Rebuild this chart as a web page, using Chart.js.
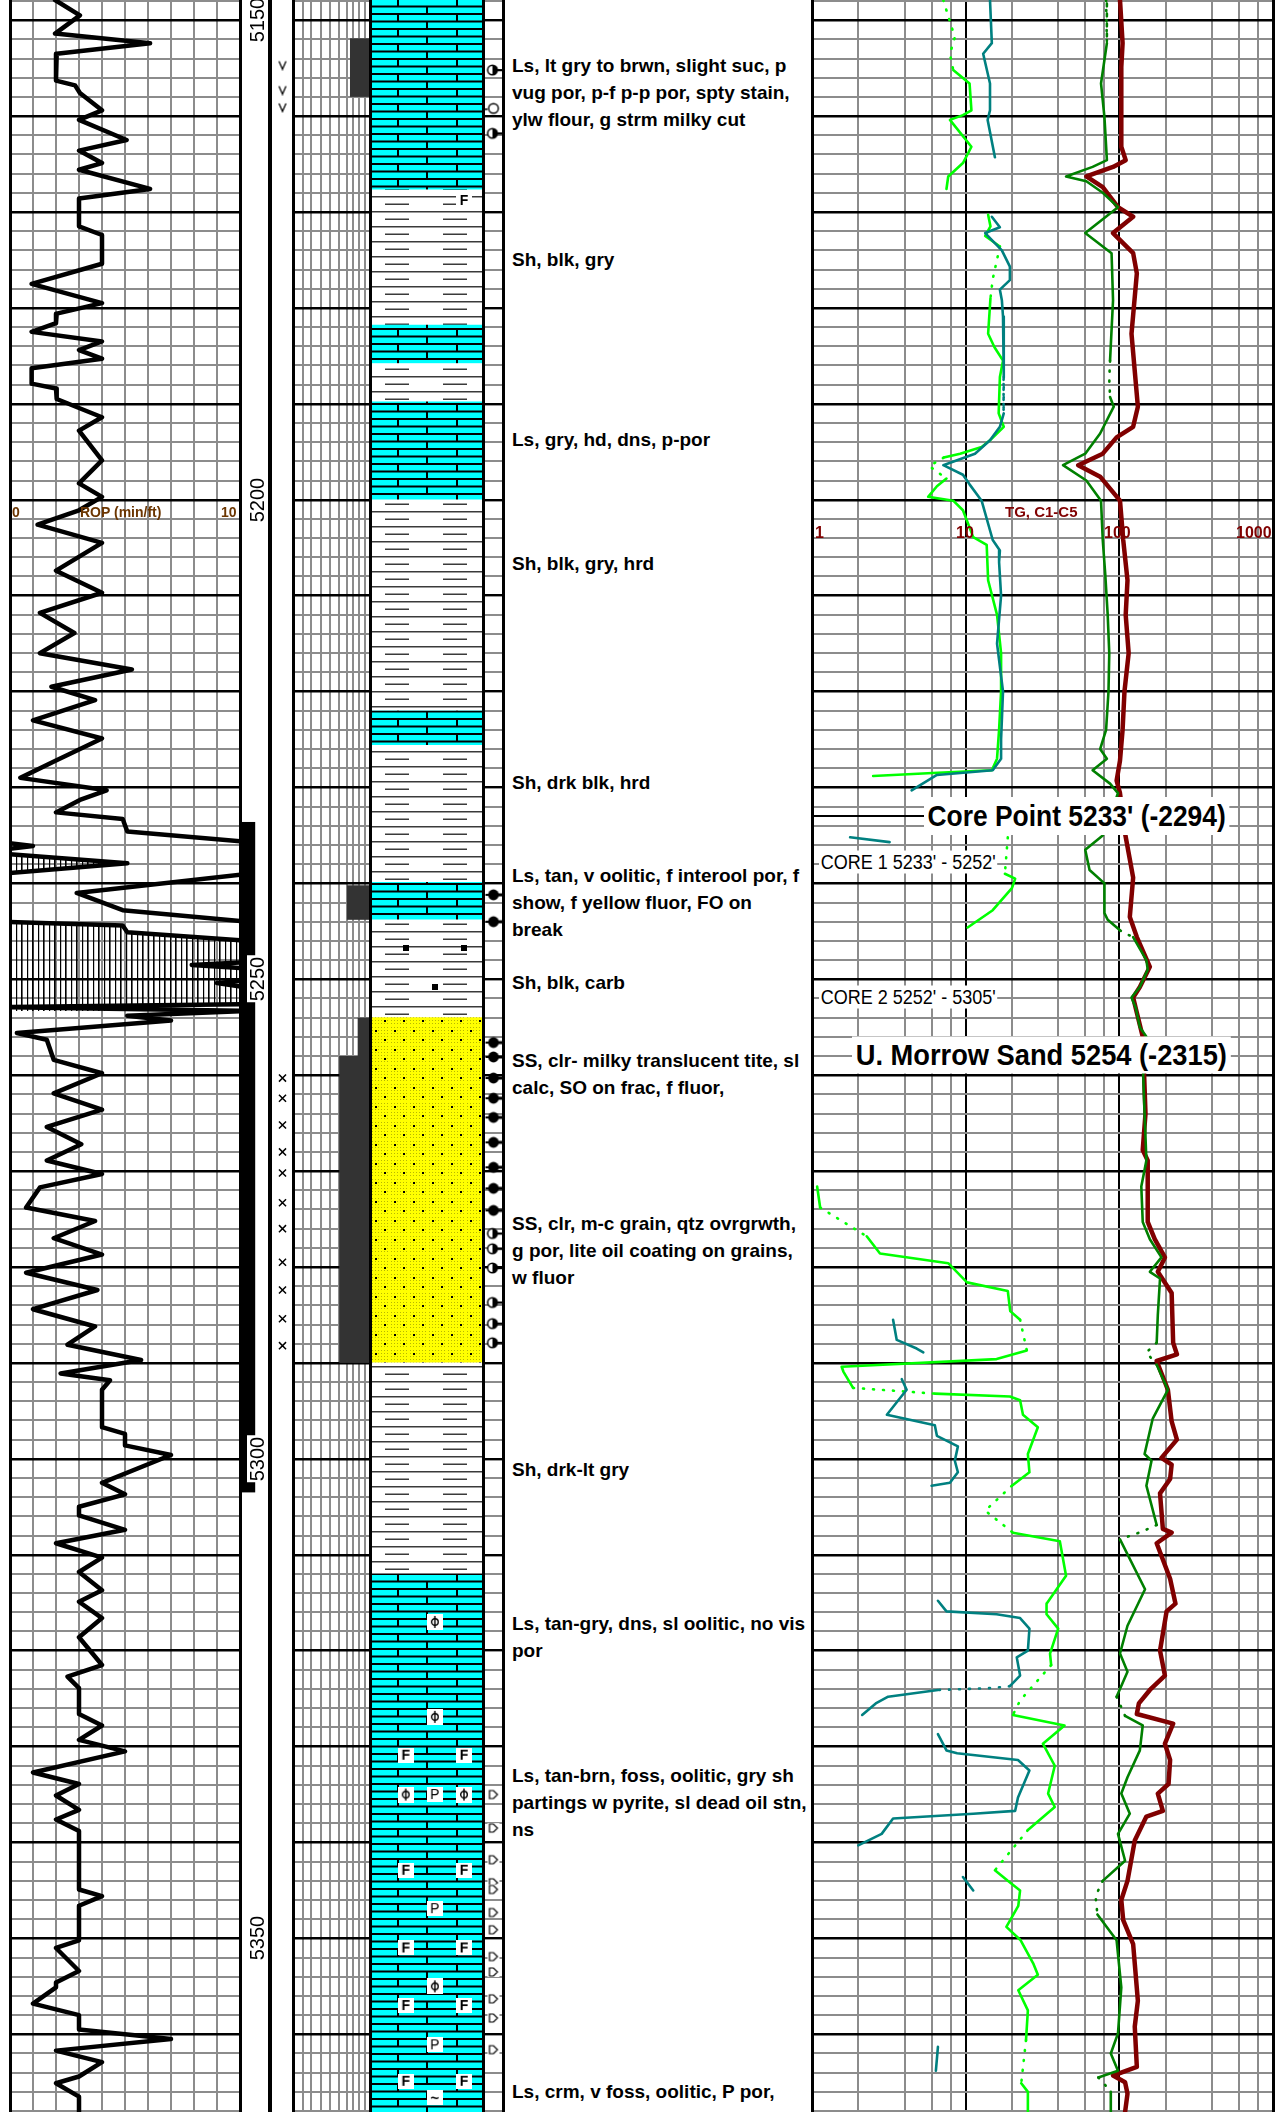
<!DOCTYPE html>
<html>
<head>
<meta charset="utf-8">
<script src="https://cdn.jsdelivr.net/npm/chart.js@4.4.1/dist/chart.umd.min.js"></script>
<style>
  html, body { margin: 0; padding: 0; background: #fff; }
  body { position: relative; width: 1278px; height: 2112px; overflow: hidden; font-family: "Liberation Sans", Arial, sans-serif; }
  .track { position: absolute; top: 0; }
  .rule { position: absolute; top: 0; height: 2112px; background: #000; }
  .desc { position: absolute; left: 512px; font-weight: bold; font-size: 19px; line-height: 27px; white-space: nowrap; color: #000; }
  .depth-label { position: absolute; font-size: 20px; line-height: 20px; background: #fff; padding: 0 1px; transform: translate(-50%, -50%) rotate(-90deg); }
  .axis-label { position: absolute; font-weight: bold; white-space: nowrap; transform: translateY(-50%); }
  .note { position: absolute; white-space: nowrap; background: #fff; transform-origin: left center; }
</style>
</head>
<body>
<div class="track" style="left:10px"><canvas id="ropChart" width="230" height="2112"></canvas></div>
<div class="track" style="left:240px"><canvas id="coreChart" width="16" height="2112"></canvas></div>
<div class="track" style="left:272px"><canvas id="markChart" width="21" height="2112"></canvas></div>
<div class="track" style="left:293px"><canvas id="poroChart" width="77" height="2112"></canvas></div>
<div class="track" style="left:371px"><canvas id="lithChart" width="112" height="2112"></canvas></div>
<div class="track" style="left:484px"><canvas id="showChart" width="19" height="2112"></canvas></div>
<div class="track" style="left:812px"><canvas id="gasChart" width="461" height="2112"></canvas></div>

<script>
// ---- depth frame ----
const depthMin = 5147.9;
const depthMax = 5368.1;
const gridStep = 2;
const depthLabels = [5150, 5200, 5250, 5300, 5350];
const ropTicks = [0, 1, 2, 3, 4, 5, 6, 7, 8, 9, 10];
const poroTicks = [0, 1.3, 2.3, 3.6, 4.8, 6.0, 7.0, 7.8, 8.6, 9.3, 10];
const gasTicks = [1, 2, 4, 6, 8, 10, 20, 40, 60, 80, 100, 200, 400, 600, 800, 1000];
const gasAxisLabels = ["1", "10", "100", "1000"];

// ---- ROP (min/ft) ----
const ropDepth = [5147.9, 5149.5, 5151.4, 5152.4, 5153.5, 5156.3, 5156.8, 5157.6, 5159.4, 5160.4,
  5162.5, 5163.6, 5164.9, 5165.6, 5167.6, 5168.6, 5171.5, 5172.4, 5175.4, 5177.5,
  5179.5, 5180.6, 5181.6, 5182.5, 5183.5, 5184.4, 5185.3, 5186.3, 5187.9, 5188.4,
  5189.5, 5191.4, 5192.8, 5195.9, 5198.3, 5199.7, 5201.1, 5202.6, 5204.5, 5207.4,
  5209.7, 5211.8, 5213.9, 5216.0, 5217.7, 5219.5, 5220.9, 5223.0, 5224.9, 5227.2,
  5229.0, 5230.3, 5231.3, 5232.6, 5233.3, 5234.6, 5235.7, 5236.0, 5239.0, 5241.0,
  5242.8, 5244.0, 5244.5, 5253.3, 5253.8, 5254.3, 5255.6, 5256.3, 5258.4, 5259.8,
  5261.9, 5263.6, 5265.4, 5267.2, 5268.9, 5270.3, 5271.7, 5273.8, 5275.2, 5277.0,
  5278.7, 5280.6, 5282.4, 5284.4, 5286.2, 5288.1, 5289.7, 5291.1, 5291.8,
  5292.8, 5296.7, 5297.4, 5298.6, 5299.6, 5302.5, 5303.7, 5305.0, 5305.9, 5307.4,
  5308.8, 5310.3, 5311.8, 5313.7, 5314.9, 5316.6, 5318.6, 5321.5, 5322.7, 5323.9,
  5326.6, 5327.8, 5329.3, 5330.5, 5332.7, 5333.9, 5335.1, 5336.6, 5337.6, 5338.8,
  5344.9, 5345.6, 5346.6, 5350.2, 5351.0, 5353.4, 5354.6, 5355.1, 5356.8, 5358.0,
  5359.5, 5360.5, 5361.7, 5362.9, 5364.4, 5365.1, 5366.5, 5368.1];
const ropValue = [1.96, 3.04, 1.96, 6.09, 2.03, 2.0, 2.83, 3.04, 4.0, 3.0,
  5.07, 3.0, 4.0, 3.0, 6.09, 3.0, 3.0, 4.0, 4.0, 0.94,
  4.0, 2.03, 2.0, 0.94, 4.0, 3.0, 4.0, 0.94, 0.94, 2.0,
  2.03, 4.0, 3.0, 4.0, 3.0, 4.0, 3.0, 1.2, 4.0, 2.0,
  4.0, 1.3, 2.8, 1.3, 5.3, 1.8, 3.7, 1.0, 4.0, 2.0,
  0.45, 4.2, 3.04, 2.0, 4.9, 5.1, 10.4, null, 10.4, 2.9,
  4.9, 10.4, null, 10.4, 5.1, 7.0, 0.3, 1.6, 1.9, 4.0,
  1.9, 4.0, 1.6, 3.1, 1.6, 4.0, 1.3, 0.7, 3.7, 1.9,
  4.0, 0.7, 3.8, 1.0, 3.7, 2.5, 5.7, 2.2, 4.35,
  4.0, 4.0, 5.0, 5.0, 7.0, 4.0, 5.0, 3.0, 3.0, 5.0,
  2.0, 4.0, 3.0, 4.0, 3.0, 4.0, 3.0, 4.0, 2.5, 3.0,
  3.0, 4.0, 3.0, 5.0, 1.0, 3.0, 2.0, 3.0, 2.0, 3.0,
  3.0, 4.0, 3.0, 3.0, 2.0, 3.0, 2.0, 2.0, 1.0, 3.0,
  3.0, 7.0, 2.0, 4.0, 3.0, 2.0, 3.0, 3.0];
// off-scale part of ROP, wrapped back (value - 10)
const ropWrapDepth = [5235.7, 5236.1, 5236.5, 5236.9, 5237.9, 5239.0, 5239.5, 5244.0, 5244.4, 5245.1,
  5246.0, 5248.2, 5248.5, 5248.9, 5250.1, 5250.4, 5250.9, 5252.6, 5252.9, 5253.3];
const ropWrapValue = [-0.4, 1.0, -0.4, -0.4, 5.1, -0.4, null, -0.4, 4.9, 5.1,
  10.4, 10.4, 7.9, 10.4, 10.4, 9.0, 10.4, 10.4, -0.4, 10.4];

// ---- gas (units, log) ----
const tgDepth = [5147.9, 5152.4, 5154.9, 5163.2, 5164.6, 5165.3, 5166.3, 5167.4, 5169.5, 5170.5,
  5172.2, 5174.3, 5176.4, 5182.7, 5190.3, 5192.4, 5193.5, 5195.2, 5196.4, 5197.6,
  5200.1, 5204.2, 5208.4, 5212.0, 5216.0, 5220.0, 5224.0, 5227.2, 5229.3, 5230.6,
  5234.8, 5239.4, 5243.5, 5245.6, 5248.7, 5250.8, 5251.9, 5253.5, 5256.0, 5260.0,
  5264.0, 5267.8, 5268.9, 5275.3, 5277.1, 5279.0, 5280.5, 5282.7, 5287.9, 5289.1,
  5289.8, 5292.8, 5296.1, 5298.0, 5299.9, 5300.6, 5302.1, 5303.6, 5307.3, 5307.7,
  5308.8, 5312.5, 5315.1, 5315.9, 5320.0, 5322.6, 5324.1, 5325.5, 5326.6, 5327.6,
  5329.7, 5331.4, 5333.9, 5334.9, 5336.7, 5337.3, 5339.8, 5344.0, 5346.0, 5348.1,
  5350.6, 5356.5, 5359.2, 5363.4, 5364.3, 5365.0, 5366.2, 5368.1];
const tgValue = [101, 105, 103, 103, 110, 91, 61, 78, 98, 123,
  91, 123, 130, 120, 132, 123, 96, 78, 54, 75,
  101, 106, 113, 110, 115, 108, 105, 101, 96, 101,
  109, 123, 117, 130, 158, 136, 123, 130, 142, 145,
  148, 142, 153, 153, 170, 198, 178, 219, 224, 237,
  175, 207, 219, 237, 188, 219, 214, 184, 192, 219,
  175, 214, 232, 203, 184, 198, 158, 134, 130, 224,
  198, 214, 209, 178, 192, 150, 126, 113, 103, 106,
  123, 132, 126, 130, 91, 109, 113, 109];

const c1Depth = [5147.9, 5152.4, 5156.6, 5160.1, 5164.6, 5165.3, 5166.3, 5166.8, 5168.0, 5169.5,
  5172.2, 5174.3, 5179.2, 5185.5, 5187.4, 5189.3, 5190.3, 5193.1, 5195.2, 5196.4,
  5198.0, 5200.1, 5204.2, 5207.8, 5212.0, 5216.0, 5220.0, 5224.0, 5226.0, 5227.0,
  5228.2, 5229.6, 5230.6, 5235.0, 5236.5, 5238.6, 5240.0, 5243.1, 5243.8, 5244.9,
  5245.3, 5245.6, 5248.0, 5249.0, 5250.8, 5251.9, 5253.0, 5255.0, 5256.0, 5260.0,
  5264.0, 5268.9, 5271.6, 5275.3, 5277.1, 5279.0, 5280.5, 5281.2, 5285.0, 5287.9,
  5288.9, 5290.2, 5292.8, 5295.8, 5299.5, 5300.2, 5302.8, 5306.9, 5307.6, 5308.4,
  5313.6, 5317.4, 5320.3, 5322.2, 5324.8, 5326.8, 5327.8, 5330.4, 5333.2, 5334.9,
  5337.0, 5339.1, 5341.9, 5344.0, 5345.6, 5347.5, 5350.2, 5355.1, 5359.9, 5362.0,
  5363.8, 5364.5, 5365.2, 5366.0, 5368.1];
const c1Value = [82, 83, 76, 80, 83, 67, 45, 61, 78, 98,
  60, 89, 91, 87, 86, 87, 92, 75, 60, 43,
  61, 76, 78, 81, 84, 86, 85, 82, 75, 83,
  67, 87, 98, 78, 60, 64, 80, 80, 84, 101,
  112, 123, 150, 153, 136, 120, 128, 136, 150, 143,
  146, 150, 139, 142, 158, 188, 158, 184, 178, 175,
  150, 175, 207, 165, 146, 162, 150, 175, 140, 101,
  147, 113, 101, 113, 96, 109, 142, 136, 113, 103,
  117, 98, 109, 78, 70, 72, 96, 103, 98, 88,
  98, 73, 80, 88, 88];
const c1DotTop  = [5147.9, 5185.5, 5244.9, 5287.9, 5306.9, 5324.8, 5344.0, 5364.5];
const c1DotBase = [5152.4, 5189.3, 5245.6, 5290.2, 5308.4, 5326.8, 5347.5, 5366.0];

const c2Depth = [5147.9, 5151.8, 5153.5, 5155.2, 5156.6, 5159.4, 5159.9, 5160.4, 5163.2, 5164.9,
  5166.3, 5167.6, 5168.5, 5170.3, 5171.5, 5172.5, 5173.6, 5177.0, 5179.0, 5182.7,
  5184.1, 5185.5, 5187.2, 5191.0, 5192.4, 5193.8, 5194.5, 5195.2, 5195.6, 5196.5,
  5197.8, 5198.6, 5199.7, 5200.1, 5201.1, 5203.9, 5204.7, 5208.4, 5212.0, 5216.0,
  5220.0, 5224.0, 5227.0, 5228.2, 5228.5, 5228.8, 5229.5, 5235.2, 5239.0, 5239.5,
  5240.5, 5242.8, 5244.6, 5245.5, 5271.6, 5273.8, 5276.8, 5278.6, 5279.6, 5281.6,
  5282.5, 5284.6, 5285.5, 5288.7, 5289.6, 5290.4, 5290.9, 5292.6, 5293.2, 5293.5,
  5293.9, 5295.4, 5296.7, 5299.5, 5301.4, 5302.8, 5305.4, 5307.7, 5308.6, 5312.2,
  5315.1, 5316.2, 5317.7, 5320.3, 5321.5, 5325.2, 5326.7, 5327.8, 5329.7, 5332.0,
  5334.9, 5336.3, 5338.7, 5342.9, 5344.0, 5345.0, 5346.6, 5348.8, 5350.2, 5352.6,
  5353.8, 5355.4, 5357.5, 5360.6, 5365.1, 5366.0, 5368.1];
const c2Value = [7.15, 8.5, 7.9, 8.3, 10.6, 10.9, 9.6, 7.9, 10.9, 9.6,
  7.7, 7.5, null, 14, 14.5, 13.4, 16.7, 15, 14.5, 14,
  15.4, 17.5, 16.7, 16.4, 17.7, 14.4, 12.7, 9.2, 7.2, 5.8,
  7.5, 6.5, 5.7, 8.3, 9.6, 11.2, 13.7, 14, 16, 17,
  17, 16.5, 16, 14.8, 6.1, 2.5, null, 18.8, 18, 21,
  20, 15, 10.3, null, 1.08, 1.13, 2.27, 2.77, 7.7, 10.2,
  18.8, 19.5, 22.6, 25, 15.9, 1.56, 1.6, 1.85, 6.3, 19.4,
  22.6, 23.6, 29.5, 25.4, 26, 20, 13.4, 20.3, 41, 45,
  33.6, 33.6, 40, 35.4, 36, 22.6, 20.3, 44, 31.8, 38,
  34.4, 38, 25.4, 15.5, 18.8, 22.6, 22, 18.4, 22.8, 27.5,
  29.5, 22, 25.4, 24.7, 23, 25.4, 25.4];
const c2DotTop  = [5147.9, 5173.6, 5195.6, 5235.2, 5273.8, 5285.5, 5292.6, 5302.8, 5321.5, 5338.7, 5360.6];
const c2DotBase = [5155.2, 5179.0, 5197.8, 5239.0, 5276.8, 5288.7, 5293.2, 5307.7, 5326.7, 5342.9, 5365.1];

const c3Depth = [5147.9, 5152.4, 5153.5, 5156.6, 5159.4, 5160.4, 5164.3, 5165.0, 5170.5, 5171.6,
  5172.2, 5174.0, 5175.7, 5177.1, 5178.1, 5179.2, 5180.9, 5187.2, 5188.5, 5191.0,
  5192.4, 5193.8, 5195.2, 5196.4, 5197.4, 5198.4, 5200.1, 5204.2, 5205.3, 5206.5,
  5210.0, 5215.0, 5220.0, 5225.0, 5227.0, 5228.2, 5228.7, 5230.3, 5231.0, 5235.2,
  5235.7, 5236.0, 5285.5, 5287.6, 5288.5, 5288.9, 5289.5, 5291.7, 5292.8, 5295.4,
  5296.5, 5297.6, 5298.7, 5300.2, 5301.4, 5302.5, 5302.8, 5303.5, 5314.8, 5315.9,
  5316.2, 5316.6, 5317.7, 5320.0, 5320.7, 5322.6, 5323.7, 5323.9, 5324.1, 5324.8,
  5325.5, 5326.7, 5327.5, 5328.7, 5330.4, 5330.7, 5331.4, 5332.5, 5335.3, 5336.7,
  5337.0, 5337.5, 5339.1, 5340.3, 5341.0, 5343.6, 5345.0, 5346.0, 5361.3, 5363.8];
const c3Value = [14.4, 14.8, 13, 14.4, 14.4, 13.9, 15.5, null, 14.8, 16.7,
  13.4, 17.2, 19.4, 19.4, 16.7, 17.2, 17.5, 17.7, 17.6, 17.7,
  16.7, 14.4, 11.5, 7.15, 9.6, 10.6, 12.7, 15, 16.7, 16.5,
  17, 16, 17.5, 17, 17, 15, 6.5, 4.45, null, 1.77,
  3.2, null, 3.37, 3.56, 4.8, 5.3, null, 3.84, 4.13, 3.07,
  6.3, 6.5, 8.9, 8.5, 8.9, 7.9, 6, null, 6.6, 7.5,
  15.9, 22.6, 26, 25.4, 21.5, 22.6, 19.4, 14.8, 6.6, 3.13,
  2.6, 2.12, null, 6.6, 7.5, 8.8, 21.9, 26, 21.9, 21,
  11.2, 3.37, 2.84, 2.0, null, 9.6, 11.2, null, 6.6, 6.4];
const c3DotTop  = [5187.2, 5323.7];
const c3DotBase = [5191.0, 5324.1];

// ---- lithology column ----
const lithTop  = [5147.9, 5167.7, 5181.8, 5185.8, 5189.8, 5200.0, 5222.0, 5225.6, 5239.9, 5243.8, 5254.0, 5290.0, 5312.0];
const lithBase = [5167.7, 5181.8, 5185.8, 5189.8, 5200.0, 5222.0, 5225.6, 5239.9, 5243.8, 5254.0, 5290.0, 5312.0, 5368.1];
const lithType = ["ls", "sh", "ls", "sh", "ls", "sh", "ls", "sh", "ls", "sh", "ss", "sh", "ls"];

const lithSymDepth = [5168.8, 5246.7, 5246.7, 5250.8, 5317.0, 5326.9, 5330.9, 5330.9, 5335.0, 5335.0,
  5335.0, 5342.9, 5342.9, 5346.9, 5351.0, 5351.0, 5355.0, 5357.0, 5357.0, 5361.1,
  5364.9, 5364.9, 5366.6];
const lithSymSlot = ["R", "L", "R", "C", "C", "C", "L", "R", "L", "C",
  "R", "L", "R", "C", "L", "R", "C", "L", "R", "C",
  "L", "R", "C"];
const lithSymKind = ["F", "sq", "sq", "sq", "phi", "phi", "F", "F", "phi", "P",
  "phi", "F", "F", "P", "F", "F", "phi", "F", "F", "P",
  "F", "F", "tilde"];

// ---- porosity shading and core interval ----
const poroTop  = [5151.9, 5240.2, 5254.0, 5258.0];
const poroBase = [5158.0, 5243.8, 5258.0, 5290.0];
const poroFrom = [7.4, 7.0, 8.4, 6.0];
const coreTop = [5233.6];
const coreBase = [5303.5];

// ---- marks and shows ----
const vMarkDepth = [5154.7, 5157.3, 5159.1];
const xMarkDepth = [5260.3, 5262.4, 5265.2, 5268.0, 5270.2, 5273.3, 5276.0, 5279.5, 5282.4, 5285.4, 5288.2];
const showDepth = [5155.2, 5159.2, 5161.8, 5241.2, 5244.0, 5256.6, 5258.1, 5260.3, 5262.4, 5264.4,
  5267.0, 5269.6, 5271.8, 5274.1, 5276.5, 5278.1, 5280.1, 5283.7, 5285.9, 5287.9,
  5335.0, 5338.5, 5341.8, 5344.2, 5344.9, 5347.3, 5349.1, 5351.9, 5353.5, 5356.3,
  5358.3, 5361.6];
const showKind = ["half", "open", "half", "full", "full", "full", "full", "full", "full", "full",
  "full", "full", "full", "full", "half", "half", "half", "half", "half", "half",
  "tri", "tri", "tri", "tri", "tri", "tri", "tri", "tri", "tri", "tri",
  "tri", "tri"];

// ---- descriptions and markers ----
const descDepth = [5154.7, 5175.0, 5193.7, 5206.6, 5229.5, 5239.2, 5250.3, 5258.5, 5275.5, 5301.1, 5317.2, 5333.0, 5366.0];
const descText = [
  ["Ls, lt gry to brwn, slight suc, p", "vug por, p-f p-p por, spty stain,", "ylw flour, g strm milky cut"],
  ["Sh, blk, gry"],
  ["Ls, gry, hd, dns, p-por"],
  ["Sh, blk, gry, hrd"],
  ["Sh, drk blk, hrd"],
  ["Ls, tan, v oolitic, f interool por, f", "show, f yellow fluor, FO on", "break"],
  ["Sh, blk, carb"],
  ["SS, clr- milky translucent tite, sl", "calc, SO on frac, f fluor,"],
  ["SS, clr, m-c grain, qtz ovrgrwth,", "g por, lite oil coating on grains,", "w fluor"],
  ["Sh, drk-lt gry"],
  ["Ls, tan-gry, dns, sl oolitic, no vis", "por"],
  ["Ls, tan-brn, foss, oolitic, gry sh", "partings w pyrite, sl dead oil stn,", "ns"],
  ["Ls, crm, v foss, oolitic, P por,"]
];
const corePointDepth = 5233.0;
const corePointText = "Core Point 5233' (-2294)";
const coreRunDepth = [5237.8, 5251.9];
const coreRunText = ["CORE 1 5233' - 5252'", "CORE 2 5252' - 5305'"];
const topDepth = 5257.9;
const topText = "U. Morrow Sand 5254 (-2315)";

// ================= drawing =================
Chart.defaults.animation = false;
Chart.defaults.events = [];
Chart.defaults.plugins.legend.display = false;
Chart.defaults.plugins.tooltip.enabled = false;
Chart.defaults.font.family = "'Liberation Sans', Arial, sans-serif";

const GRAY = "#8c8c8c";

function depthAxis(showGrid) {
  return {
    type: "linear", reverse: true, min: depthMin, max: depthMax, bounds: "data",
    afterBuildTicks: (scale) => {
      const t = [];
      for (let d = Math.ceil(depthMin / gridStep) * gridStep; d <= depthMax; d += gridStep) t.push({ value: d });
      scale.ticks = t;
    },
    ticks: { display: false },
    border: { display: false },
    grid: {
      display: showGrid, drawTicks: false,
      color: (c) => (c.tick && c.tick.value % 10 === 0 ? "#000" : GRAY),
      lineWidth: (c) => (c.tick && c.tick.value % 10 === 0 ? 2.4 : 2)
    }
  };
}

function flatAxis(ticks, gridOn) {
  return {
    type: "linear", min: ticks[0], max: ticks[ticks.length - 1], bounds: "data", offset: false,
    afterBuildTicks: (scale) => { scale.ticks = ticks.map((v) => ({ value: v })); },
    ticks: { display: false },
    border: { display: false },
    grid: { display: gridOn, drawTicks: false, color: GRAY, lineWidth: 2 }
  };
}

function icon(w, h, draw) {
  const c = document.createElement("canvas");
  c.width = w; c.height = h;
  draw(c.getContext("2d"));
  return c;
}

function tile(w, h, draw) {
  const c = icon(w, h, draw);
  return c.getContext("2d").createPattern(c, "repeat");
}

const lithPatterns = {
  ls: tile(112, 15, (g) => {
    g.fillStyle = "#00ffff"; g.fillRect(0, 0, 112, 15);
    g.fillStyle = "#000";
    g.fillRect(0, 5.5, 112, 2); g.fillRect(0, 13, 112, 2);
    g.fillRect(26, 0, 2, 6); g.fillRect(85, 0, 2, 6);
    g.fillRect(55, 7, 2, 7);
  }),
  sh: tile(112, 15, (g) => {
    g.fillStyle = "#fff"; g.fillRect(0, 0, 112, 15);
    g.fillStyle = "#3a3a3a";
    g.fillRect(0, 1, 112, 1.5);
    g.fillRect(14, 8.5, 24, 1.5); g.fillRect(72, 8.5, 24, 1.5);
  }),
  ss: tile(19, 19, (g) => {
    g.fillStyle = "#ffff00"; g.fillRect(0, 0, 19, 19);
    g.fillStyle = "#b8b800";
    for (let i = 1; i < 19; i += 3) for (let j = 1; j < 19; j += 3) g.fillRect(i, j, 1, 1);
    g.fillStyle = "#000";
    g.fillRect(4, 4, 2, 2); g.fillRect(13, 13, 2, 2);
  })
};

const hatch = tile(11, 4, (g) => { g.fillStyle = "#000"; g.fillRect(0, 0, 1.6, 4); g.fillRect(6, 0, 1.2, 4); });

function letterBox(ch, font) {
  return icon(16, 15, (g) => {
    g.fillStyle = "#fff"; g.fillRect(0, 0, 16, 15);
    g.fillStyle = "#000"; g.font = font; g.textAlign = "center"; g.textBaseline = "middle";
    g.fillText(ch, 8, 8.5);
  });
}

const lithIcons = {
  F: letterBox("F", "bold 14px 'Liberation Sans'"),
  P: letterBox("P", "14px 'Liberation Sans'"),
  tilde: letterBox("~", "bold 15px 'Liberation Sans'"),
  phi: icon(16, 16, (g) => {
    g.fillStyle = "#fff"; g.fillRect(0, 0, 16, 16);
    g.strokeStyle = "#000"; g.lineWidth = 1.4;
    g.beginPath(); g.arc(8, 8, 3.3, 0, Math.PI * 2); g.stroke();
    g.beginPath(); g.moveTo(8, 2); g.lineTo(8, 14); g.stroke();
  }),
  sq: icon(6, 6, (g) => { g.fillStyle = "#000"; g.fillRect(0, 0, 6, 6); })
};

const showIcons = {
  half: icon(18, 14, (g) => {
    g.strokeStyle = "#000"; g.lineWidth = 1.5; g.fillStyle = "#fff";
    g.beginPath(); g.arc(8, 7, 4.8, 0, Math.PI * 2); g.fill(); g.stroke();
    g.fillStyle = "#000";
    g.beginPath(); g.moveTo(8, 2.2); g.arc(8, 7, 4.8, -Math.PI / 2, Math.PI / 2); g.closePath(); g.fill();
    g.fillRect(12, 6, 6, 2.2);
  }),
  open: icon(18, 14, (g) => {
    g.strokeStyle = "#000"; g.lineWidth = 1.4; g.fillStyle = "#fff";
    g.beginPath(); g.arc(9, 7, 4.8, 0, Math.PI * 2); g.fill(); g.stroke();
    g.fillStyle = "#000"; g.fillRect(0, 7, 3, 1.6);
  }),
  full: icon(18, 14, (g) => {
    g.fillStyle = "#000";
    g.beginPath(); g.arc(9, 7, 5.4, 0, Math.PI * 2); g.fill();
    g.fillRect(13, 5.5, 5, 3); g.fillRect(1, 6, 3, 2);
  }),
  tri: icon(14, 12, (g) => {
    g.fillStyle = "#fff"; g.fillRect(1, 1, 12, 10);
    g.strokeStyle = "#000"; g.lineWidth = 1.2;
    g.beginPath(); g.moveTo(3, 2); g.lineTo(7, 2); g.lineTo(11, 6); g.lineTo(7, 10); g.lineTo(3, 10); g.closePath(); g.stroke();
  })
};

const vIcon = icon(10, 11, (g) => {
  g.strokeStyle = "#000"; g.lineWidth = 1.3;
  g.beginPath(); g.moveTo(1.5, 1.5); g.lineTo(5, 9.5); g.lineTo(8.5, 1.5); g.stroke();
});

const intervalPlugin = {
  id: "intervals",
  beforeDatasetsDraw(chart, args, opts) {
    const { ctx, scales } = chart;
    (opts.items || []).forEach((it) => {
      const x0 = scales.x.getPixelForValue(it.x0), x1 = scales.x.getPixelForValue(it.x1);
      const y0 = scales.y.getPixelForValue(it.top), y1 = scales.y.getPixelForValue(it.base);
      ctx.save();
      ctx.fillStyle = it.color;
      ctx.fillRect(x0, y0, x1 - x0, y1 - y0);
      ctx.restore();
    });
  }
};

// no automatic padding: every track's chart area is its whole canvas
const base = { responsive: false, devicePixelRatio: 1, layout: { padding: 0, autoPadding: false } };

function curve(depths, values, color, width, dotTop, dotBase) {
  const dotted = (a, b) => (dotTop || []).some((t, i) => Math.min(a, b) >= t - 0.01 && Math.max(a, b) <= dotBase[i] + 0.01);
  return {
    data: depths.map((d, i) => ({ x: values[i], y: d })),
    borderColor: color, borderWidth: width, pointRadius: 0, fill: false,
    spanGaps: false, borderJoinStyle: "round", borderCapStyle: "round",
    segment: { borderDash: (ctx) => (dotted(ctx.p0.parsed.y, ctx.p1.parsed.y) ? [1, 9] : undefined) }
  };
}

// ROP track
const ropChart = new Chart(document.getElementById("ropChart"), {
  type: "line",
  data: {
    datasets: [
      curve(ropDepth, ropValue, "#000", 4.5),
      Object.assign(curve(ropWrapDepth, ropWrapValue, "#000", 4.5), { fill: "origin", backgroundColor: hatch })
    ]
  },
  options: Object.assign({}, base, {
    indexAxis: "y",
    scales: { x: flatAxis(ropTicks, true), y: depthAxis(true) }
  })
});

// core bar in depth column
new Chart(document.getElementById("coreChart"), {
  type: "scatter",
  data: { datasets: [] },
  plugins: [intervalPlugin],
  options: Object.assign({}, base, {
    scales: { x: flatAxis([0, 1], false), y: depthAxis(false) },
    plugins: { intervals: { items: coreTop.map((t, i) => ({ top: t, base: coreBase[i], x0: 0, x1: 0.95, color: "#000" })) } }
  })
});

// V / X marks column
new Chart(document.getElementById("markChart"), {
  type: "scatter",
  data: {
    datasets: [
      { data: vMarkDepth.map((d) => ({ x: 0.5, y: d })), pointStyle: vIcon, pointRadius: 5 },
      { data: xMarkDepth.map((d) => ({ x: 0.5, y: d })), pointStyle: "crossRot", pointRadius: 5, borderColor: "#000", borderWidth: 1.5 }
    ]
  },
  options: Object.assign({}, base, { scales: { x: flatAxis([0, 1], false), y: depthAxis(false) } })
});

// porosity grid track
new Chart(document.getElementById("poroChart"), {
  type: "scatter",
  data: { datasets: [] },
  plugins: [intervalPlugin],
  options: Object.assign({}, base, {
    scales: { x: flatAxis(poroTicks, true), y: depthAxis(true) },
    plugins: { intervals: { items: poroTop.map((t, i) => ({ top: t, base: poroBase[i], x0: poroFrom[i], x1: 10, color: "#333333" })) } }
  })
});

// lithology column
const slotX = { L: 0.31, C: 0.57, R: 0.83 };
new Chart(document.getElementById("lithChart"), {
  type: "bar",
  data: {
    datasets: [
      {
        type: "scatter",
        data: lithSymDepth.map((d, i) => ({ x: slotX[lithSymSlot[i]], y: d })),
        pointStyle: lithSymKind.map((k) => lithIcons[k]), pointRadius: 6
      },
      {
        data: lithTop.map((t, i) => ({ x: 0.5, y: [t, lithBase[i]] })),
        backgroundColor: lithType.map((t) => lithPatterns[t]),
        borderWidth: 0, barPercentage: 1, categoryPercentage: 1
      }
    ]
  },
  options: Object.assign({}, base, { scales: { x: flatAxis([0, 1], false), y: depthAxis(false) } })
});

// show symbols column
new Chart(document.getElementById("showChart"), {
  type: "scatter",
  data: { datasets: [{ data: showDepth.map((d) => ({ x: 0.5, y: d })), pointStyle: showKind.map((k) => showIcons[k]), pointRadius: 6 }] },
  options: Object.assign({}, base, { scales: { x: flatAxis([0, 1], false), y: depthAxis(true) } })
});

// gas track
new Chart(document.getElementById("gasChart"), {
  type: "line",
  data: {
    datasets: [
      curve(c1Depth, c1Value, "#008000", 2.6, c1DotTop, c1DotBase),
      curve(tgDepth, tgValue, "#800000", 4.5),
      curve(c3Depth, c3Value, "#008080", 2.6, c3DotTop, c3DotBase),
      curve(c2Depth, c2Value, "#00ff00", 2.6, c2DotTop, c2DotBase)
    ]
  },
  options: Object.assign({}, base, {
    indexAxis: "y",
    scales: {
      x: {
        type: "logarithmic", min: 1, max: 1000, bounds: "data",
        afterBuildTicks: (scale) => { scale.ticks = gasTicks.map((v) => ({ value: v })); },
        ticks: { display: false },
        border: { display: false },
        grid: {
          drawTicks: false,
          color: (c) => (c.tick && (c.tick.value === 10 || c.tick.value === 100) ? "#000" : GRAY),
          lineWidth: 2
        }
      },
      y: depthAxis(true)
    }
  })
});

// ================= overlays (real text) =================
const yPix = (d) => ropChart.scales.y.getPixelForValue(d);

function addDiv(cls, text, style) {
  const el = document.createElement("div");
  el.className = cls;
  el.textContent = text;
  Object.assign(el.style, style);
  document.body.appendChild(el);
  return el;
}

// track borders
[[10, 3], [240, 3], [270, 4], [293, 3], [370, 3], [483, 3], [503, 3], [812, 3], [1273, 3]].forEach(([x, w]) => {
  const el = document.createElement("div");
  el.className = "rule";
  el.style.left = (x - w / 2) + "px";
  el.style.width = w + "px";
  document.body.appendChild(el);
});

depthLabels.forEach((d) => addDiv("depth-label", String(d), { left: "257px", top: yPix(d) + "px" }));

descDepth.forEach((d, i) => {
  const el = addDiv("desc", "", { top: (yPix(d) - 13.5) + "px" });
  el.innerHTML = descText[i].map((s) => s.replace(/&/g, "&amp;").replace(/</g, "&lt;")).join("<br>");
});

// ROP scale labels
const ropLabelY = yPix(5201.3) + "px";
addDiv("axis-label", "0", { left: "12px", top: ropLabelY, fontSize: "14px", color: "#6b3500" });
addDiv("axis-label", "ROP (min/ft)", { left: "80px", top: ropLabelY, fontSize: "14px", color: "#6b3500" });
addDiv("axis-label", "10", { left: "221px", top: ropLabelY, fontSize: "14px", color: "#6b3500" });

// gas scale labels
const gasLabelY = yPix(5203.5) + "px";
const gasLabelLeft = [815, 956, 1104, 1236];
gasAxisLabels.forEach((t, i) => addDiv("axis-label", t, { left: gasLabelLeft[i] + "px", top: gasLabelY, fontSize: "16px", color: "#800000" }));
addDiv("axis-label", "TG, C1-C5", { left: "1005px", top: yPix(5201.2) + "px", fontSize: "15px", color: "#800000" });

// core point marker
const cpY = yPix(corePointDepth);
const line = document.createElement("div");
Object.assign(line.style, { position: "absolute", left: "814px", width: "112px", height: "2px", background: "#000", top: (cpY - 1) + "px" });
document.body.appendChild(line);
addDiv("note", corePointText, { left: "924px", top: cpY + "px", fontSize: "30px", fontWeight: "bold", padding: "2px 4px", transform: "translateY(-50%) scaleX(0.88)" });

coreRunDepth.forEach((d, i) => addDiv("note", coreRunText[i], {
  left: "819px", top: yPix(d) + "px", fontSize: "20px", padding: "0 2px", transform: "translateY(-50%) scaleX(0.9)"
}));

addDiv("note", topText, { left: "852px", top: yPix(topDepth) + "px", fontSize: "29px", fontWeight: "bold", padding: "2px 4px", transform: "translateY(-50%) scaleX(0.94)" });
</script>
</body>
</html>
